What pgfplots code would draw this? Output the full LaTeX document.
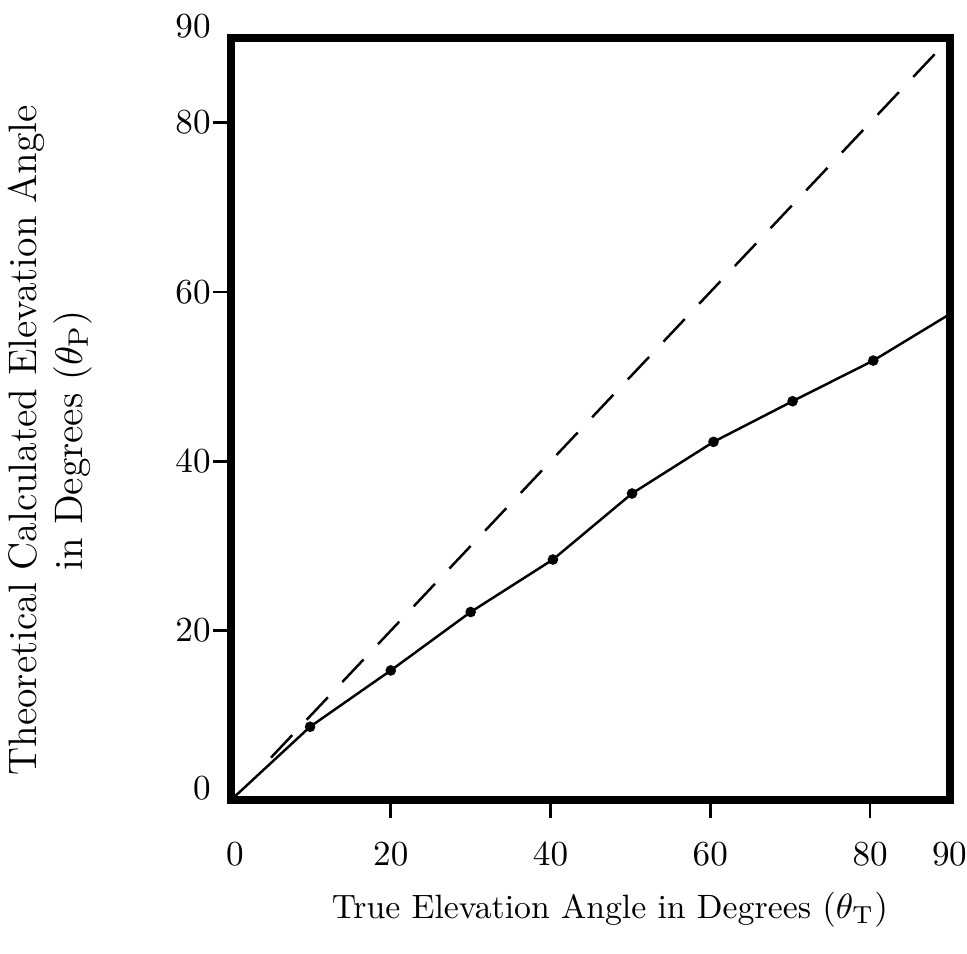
\documentclass[border=0pt]{standalone}
\usepackage{pgfplots}
\pgfplotsset{compat=1.18}
\begin{document}
\begin{tikzpicture}
\useasboundingbox (-2.31cm,-1.54cm) rectangle (7.36cm,8.00cm);
\begin{axis}[
  scale only axis, width=7.19cm, height=7.62cm,
  xmin=0, xmax=90, ymin=0, ymax=90,
  xtick={20,40,60,80}, ytick={20,40,60,80},
  extra x ticks={0,90}, extra x tick labels={\hspace{0.8mm}0,90\hspace{2mm}},
  extra y ticks={0,90},
  extra x tick style={tick style={draw=none}},
  extra y tick style={tick style={draw=none}, yticklabel style={yshift=1.2mm}},
  tick align=outside, major tick length=1.8mm,
  xtick pos=left, ytick pos=left,
  tick style={line width=0.8pt, black},
  axis line style={line width=2.3pt, line join=miter},
  xticklabel style={yshift=-1.2mm},
  yticklabel style={xshift=1.0mm},
  xlabel={True Elevation Angle in Degrees $(\theta_{\mathrm{T}})$},
  ylabel={Theoretical Calculated Elevation Angle\\in Degrees $(\theta_{\mathrm{P}})$},
  xlabel style={at={(axis description cs:0.527,-0.144)}, anchor=center, font=\fontsize{9.6}{12}\selectfont},
  ylabel style={at={(axis description cs:-0.252,0.472)}, anchor=center, align=center, font=\fontsize{11.3}{13}\selectfont},
]
\addplot[black, line width=0.7pt, dash pattern=on 3.1mm off 2.1mm] coordinates {(5,5) (90,90)};
\addplot[black, line width=0.7pt] coordinates {
  (0,0) (9.9,8.65) (20,15.3) (30,22.2) (40.3,28.4) (50.2,36.2) (60.4,42.3) (70.3,47.1) (80.4,51.9) (90,57.4)};
\addplot[only marks, mark=*, mark size=1.3pt, black] coordinates {
  (9.9,8.65) (20,15.3) (30,22.2) (40.3,28.4) (50.2,36.2) (60.4,42.3) (70.3,47.1) (80.4,51.9)};
\end{axis}
\end{tikzpicture}
\end{document}
